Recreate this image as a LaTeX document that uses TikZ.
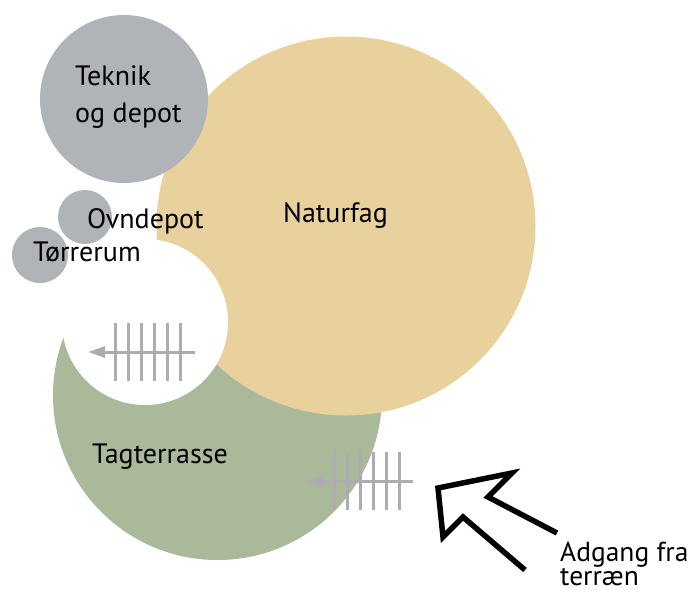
\documentclass[tikz,border=0pt]{standalone}
\usepackage{fontspec}
\setmainfont{PT Sans}
\usetikzlibrary{arrows.meta}

\definecolor{roomgrey}{RGB}{176,179,183}
\definecolor{roomtan}{RGB}{233,209,158}
\definecolor{roomgreen}{RGB}{169,185,154}
\definecolor{stairgrey}{RGB}{172,172,177}

\tikzset{
  label/.style={anchor=base west, inner sep=0pt, font=\fontsize{28}{36}\selectfont},
  stairline/.style={draw=stairgrey, line width=3pt},
}

\begin{document}
\begin{tikzpicture}[x=1pt,y=-1pt]
  \useasboundingbox (0,0) rectangle (693,614);

  %% rooms
  \fill[roomgreen] (217.5,395.5) circle (164.5);
  \fill[roomtan] (346,226) circle (189.5);
  \fill[roomgrey] (124,99) circle (84);
  \fill[roomgrey] (85,217) circle (27);
  \fill[roomgrey] (40,255) circle (28);
  \fill[white] (145,322) circle (83);

  %% stairs inside
  \foreach \x in {115,128,141,154,167,180}
    \draw[stairline] (\x,323) -- (\x,381);
  \draw[stairline, -{Triangle[length=17pt,width=11pt]}] (195,352) -- (88,352);

  %% stairs outside
  \foreach \x in {334,347,360,373,386,399}
    \draw[stairline] (\x,452) -- (\x,510);
  \draw[stairline, -{Triangle[length=17pt,width=11pt]}] (413,481) -- (307,481);

  %% access arrow
  \draw[line width=5.5pt, miter limit=10] (525,570) -- (463,517) -- (443,537)
    -- (438,488) -- (512,473) -- (488,497) -- (557,533);

  %% labels
  \node[label] (teknik) at (75,85) {Teknik};
  \node[label] (depot) at (75,122) {og depot};
  \node[label] (ovn) at (87,228) {Ovndepot};
  \node[label] (toerre) at (33,261) {Tørrerum};
  \node[label] (natur) at (283,222) {Naturfag};
  \node[label] (tag) at (92,463) {Tagterrasse};
  \node[label, font=\fontsize{27.5}{20}\selectfont, align=left] (adgang) at (560,585) {Adgang fra\\terræn};

\end{tikzpicture}
\end{document}
